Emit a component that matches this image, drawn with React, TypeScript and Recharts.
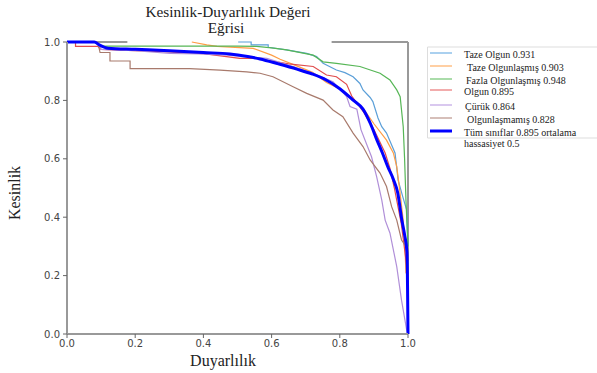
import React from 'react';
import { LineChart, Line, XAxis, YAxis, ReferenceLine } from 'recharts';

const ticks = [0, 0.2, 0.4, 0.6, 0.8, 1.0];

const tazeOlgunR = [0.502, 0.54, 0.54, 0.59, 0.59, 0.644, 0.703, 0.732, 0.751, 0.79, 0.815, 0.839, 0.859, 0.868, 0.889, 0.897, 0.912, 0.923, 0.937, 0.962, 0.971, 0.985, 0.996, 1.0];
const tazeOlgunP = [1.0, 1.0, 0.99, 0.99, 0.982, 0.973, 0.961, 0.95, 0.927, 0.904, 0.895, 0.881, 0.858, 0.836, 0.81, 0.796, 0.74, 0.71, 0.688, 0.62, 0.527, 0.469, 0.425, 0.3];

const tazeOlgunlasmisR = [0.366, 0.41, 0.44, 0.546, 0.6, 0.625, 0.67, 0.72, 0.761, 0.8, 0.839, 0.87, 0.9, 0.937, 0.957, 0.967, 0.975, 0.985, 0.991, 0.994, 1.0];
const tazeOlgunlasmisP = [1.0, 0.99, 0.985, 0.978, 0.955, 0.941, 0.92, 0.896, 0.861, 0.839, 0.805, 0.77, 0.72, 0.664, 0.62, 0.573, 0.5, 0.4, 0.299, 0.21, 0.2];

const fazlaR = [0, 0.08, 0.097, 0.2, 0.3, 0.4, 0.5, 0.556, 0.6, 0.644, 0.722, 0.751, 0.79, 0.859, 0.918, 0.947, 0.967, 0.977, 0.986, 0.99, 0.994, 0.998, 1.0];
const fazlaP = [1.0, 1.0, 0.986, 0.986, 0.986, 0.986, 0.986, 0.985, 0.98, 0.973, 0.955, 0.932, 0.927, 0.916, 0.893, 0.87, 0.836, 0.813, 0.71, 0.6, 0.459, 0.35, 0.3];

const olgunR = [0, 0.025, 0.025, 0.09, 0.1, 0.2, 0.3, 0.4, 0.507, 0.556, 0.6, 0.65, 0.722, 0.761, 0.79, 0.82, 0.835, 0.87, 0.9, 0.933, 0.947, 0.96, 0.98, 1.0];
const olgunP = [1, 1, 0.985, 0.985, 0.975, 0.97, 0.966, 0.96, 0.944, 0.944, 0.935, 0.925, 0.916, 0.887, 0.881, 0.855, 0.815, 0.76, 0.7, 0.62, 0.568, 0.5, 0.38, 0.2];

const curukR = [0, 0.09, 0.1, 0.2, 0.302, 0.39, 0.468, 0.527, 0.586, 0.663, 0.722, 0.78, 0.82, 0.83, 0.85, 0.862, 0.893, 0.908, 0.923, 0.933, 0.947, 0.967, 0.981, 0.996, 1.0];
const curukP = [1, 1, 0.975, 0.97, 0.961, 0.959, 0.955, 0.95, 0.944, 0.916, 0.893, 0.864, 0.813, 0.779, 0.77, 0.7, 0.607, 0.539, 0.459, 0.39, 0.346, 0.231, 0.116, 0.014, 0.0];

const olgunlasmamisR = [0, 0.09, 0.097, 0.126, 0.126, 0.185, 0.185, 0.36, 0.449, 0.527, 0.566, 0.604, 0.663, 0.703, 0.751, 0.78, 0.809, 0.839, 0.868, 0.889, 0.918, 0.937, 0.952, 0.967, 0.981, 0.994, 1.0];
const olgunlasmamisP = [1, 1, 0.964, 0.964, 0.935, 0.935, 0.909, 0.909, 0.904, 0.898, 0.893, 0.881, 0.847, 0.824, 0.801, 0.767, 0.744, 0.688, 0.642, 0.596, 0.551, 0.505, 0.436, 0.39, 0.322, 0.3, 0.25];

const tumR = [0, 0.08, 0.095, 0.12, 0.2, 0.3, 0.4, 0.478, 0.53, 0.566, 0.62, 0.674, 0.72, 0.76, 0.8, 0.84, 0.868, 0.89, 0.909, 0.925, 0.941, 0.957, 0.97, 0.982, 0.99, 0.997, 1.0];
const tumP = [1, 1, 0.99, 0.979, 0.975, 0.97, 0.964, 0.959, 0.95, 0.942, 0.925, 0.907, 0.89, 0.87, 0.84, 0.8, 0.77, 0.72, 0.664, 0.62, 0.572, 0.53, 0.483, 0.39, 0.34, 0.28, 0.0];

const labels = [
  'Taze Olgun 0.931',
  'Taze Olgunlaşmış 0.903',
  'Fazla Olgunlaşmış 0.948',
  'Olgun 0.895',
  'Çürük 0.864',
  'Olgunlaşmamış 0.828',
  'Tüm sınıflar 0.895 ortalama',
];

const toData = (r: number[], p: number[]) => r.map((x, i) => ({ r: x, p: p[i] }));

const series = [
  { name: labels[0], data: toData(tazeOlgunR, tazeOlgunP), color: '#5b9fd8', w: 1.2, t: 'linear' },
  { name: labels[1], data: toData(tazeOlgunlasmisR, tazeOlgunlasmisP), color: '#ff9d45', w: 1.2, t: 'linear' },
  { name: labels[2], data: toData(fazlaR, fazlaP), color: '#56b656', w: 1.2, t: 'linear' },
  { name: labels[3], data: toData(olgunR, olgunP), color: '#e04c4c', w: 1.2, t: 'linear' },
  { name: labels[4], data: toData(curukR, curukP), color: '#b08fd8', w: 1.2, t: 'linear' },
  { name: labels[5], data: toData(olgunlasmamisR, olgunlasmamisP), color: '#a87a6c', w: 1.2, t: 'linear' },
  { name: labels[6], data: toData(tumR, tumP), color: '#0000ff', w: 3, t: 'monotone' },
];

const legendColors = ['#8ec0ea', '#ffbf85', '#8ed08e', '#ee9090', '#cdb6ea', '#c8aaa2', '#0000ff'];
const legendIndent = [0, 3, 2, 0, 1, 3, 0];
const legendY = [54, 67, 80, 91, 106, 119, 132];

const serif = '"Liberation Serif", "Times New Roman", serif';
const tickStyle = { fontFamily: '"DejaVu Sans", sans-serif', fontSize: 10, fill: '#444' };

export default function App() {
  return (
    <div style={{ position: 'absolute', left: 0, top: 0, width: 597, height: 373, background: '#fff', overflow: 'hidden' }}>
      <LineChart width={597} height={373} margin={{ top: 42, right: 189, bottom: 0, left: 0 }}>
        <XAxis
          type="number"
          dataKey="r"
          domain={[0, 1]}
          ticks={ticks}
          tickFormatter={(v: number) => v.toFixed(1)}
          height={39}
          allowDuplicatedCategory={false}
          axisLine={{ stroke: '#999', strokeWidth: 2 }}
          tickLine={{ stroke: '#666' }}
          tickSize={4}
          tickMargin={2}
          tick={tickStyle}
        />
        <YAxis
          type="number"
          dataKey="p"
          domain={[0, 1]}
          ticks={ticks}
          tickFormatter={(v: number) => v.toFixed(1)}
          width={67}
          axisLine={{ stroke: '#999', strokeWidth: 2 }}
          tickLine={{ stroke: '#666' }}
          tickSize={4}
          tickMargin={3}
          tick={tickStyle}
        />
        <ReferenceLine x={1} stroke="#999" strokeWidth={2} ifOverflow="visible" />
        <ReferenceLine segment={[{ x: 0, y: 1 }, { x: 0.177, y: 1 }]} stroke="#999" strokeWidth={2} ifOverflow="visible" />
        <ReferenceLine segment={[{ x: 0.776, y: 1 }, { x: 1, y: 1 }]} stroke="#999" strokeWidth={2} ifOverflow="visible" />
        {series.map((s) => (
          <Line
            key={s.name}
            data={s.data}
            dataKey="p"
            type={s.t as any}
            stroke={s.color}
            strokeWidth={s.w}
            dot={false}
            activeDot={false}
            isAnimationActive={false}
          />
        ))}
      </LineChart>
      <svg width={597} height={373} style={{ position: 'absolute', left: 0, top: 0, pointerEvents: 'none' }}>
        <text x={228} y={17} textAnchor="middle" fontFamily={serif} fontSize={15.3} fill="#222">Kesinlik-Duyarlılık Değeri</text>
        <text x={226} y={33} textAnchor="middle" fontFamily={serif} fontSize={15.3} fill="#222">Eğrisi</text>
        <text x={223} y={366} textAnchor="middle" fontFamily={serif} fontSize={16} fill="#222">Duyarlılık</text>
        <text x={20} y={193} textAnchor="middle" fontFamily={serif} fontSize={16} fill="#222" transform="rotate(-90 20 193)">Kesinlik</text>
        <path d="M 597 47 L 427.5 47 L 427.5 138 L 597 138" fill="none" stroke="#ddd" strokeWidth={1} />
        {labels.map((l, i) => (
          <g key={l}>
            <line x1={430} x2={452} y1={legendY[i] - 1} y2={legendY[i] - 1} stroke={legendColors[i]} strokeWidth={i === 6 ? 3 : 1.5} />
            <text x={464 + legendIndent[i]} y={legendY[i] + 3.5} fontFamily={serif} fontSize={10} fill="#222">{l}</text>
          </g>
        ))}
        <text x={464} y={147} fontFamily={serif} fontSize={10} fill="#222">hassasiyet 0.5</text>
      </svg>
    </div>
  );
}
